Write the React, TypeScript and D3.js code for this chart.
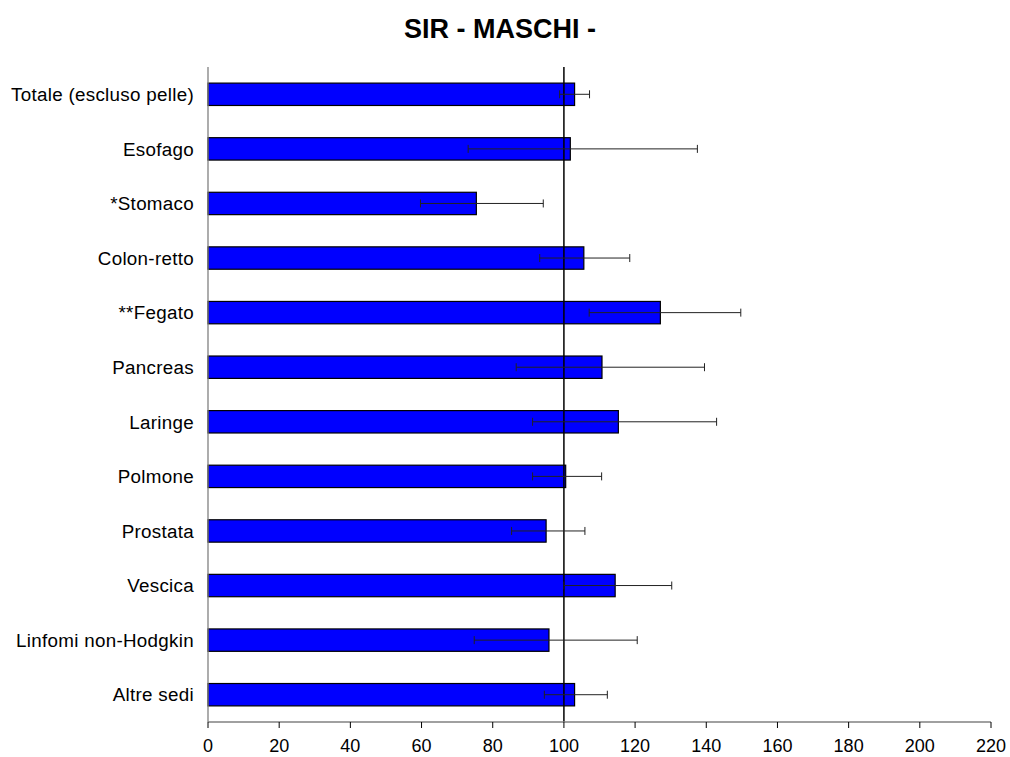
import * as d3 from "d3";

const categories = [
  "Totale (escluso pelle)",
  "Esofago",
  "*Stomaco",
  "Colon-retto",
  "**Fegato",
  "Pancreas",
  "Laringe",
  "Polmone",
  "Prostata",
  "Vescica",
  "Linfomi non-Hodgkin",
  "Altre sedi",
];
const sir = [103.0, 101.8, 75.4, 105.6, 127.1, 110.7, 115.3, 100.5, 95.0, 114.4, 95.8, 103.0];
const lower = [98.8, 73.1, 59.7, 93.2, 107.1, 86.6, 91.2, 91.2, 85.3, 100.0, 74.8, 94.5];
const upper = [107.2, 137.5, 94.2, 118.5, 149.7, 139.5, 142.9, 110.6, 105.9, 130.3, 120.6, 112.2];
const xTicks = [0, 20, 40, 60, 80, 100, 120, 140, 160, 180, 200, 220];

const W = 1010;
const H = 757;
const M = { top: 67, right: 19, bottom: 35, left: 208 };
const FONT = "'Liberation Sans', Arial, sans-serif";
const LABEL_SIZE = 18.8;

export default function App() {
  const x = d3.scaleLinear().domain([0, 220]).range([M.left, W - M.right]);
  const y = d3
    .scaleBand()
    .domain(categories)
    .range([M.top, H - M.bottom])
    .paddingInner(0.59)
    .paddingOuter(0.295);
  const bw = y.bandwidth();
  const axisY = H - M.bottom;

  return (
    <svg
      width={W}
      height={H}
      style={{ position: "absolute", left: 0, top: 0, background: "#fff" }}
      fontFamily={FONT}
    >
      <text x={500} y={37.5} textAnchor="middle" fontSize={27} fontWeight="bold" fill="#000">
        SIR - MASCHI -
      </text>

      {/* bars */}
      {categories.map((c, i) => {
        const yy = y(c)!;
        return (
          <g key={c}>
            <rect
              x={x(0)}
              y={yy}
              width={x(sir[i]) - x(0)}
              height={bw}
              fill="#0000ff"
              stroke="#000"
              strokeWidth={1.2}
            />
            <text
              x={M.left - 14}
              y={yy + bw / 2 + LABEL_SIZE * 0.36}
              textAnchor="end"
              fontSize={LABEL_SIZE}
              letterSpacing={0.3}
              fill="#000"
            >
              {c}
            </text>
          </g>
        );
      })}

      {/* reference line at 100 */}
      <line x1={x(100)} x2={x(100)} y1={M.top} y2={axisY} stroke="#000" strokeWidth={1.5} />

      {/* error bars */}
      {categories.map((c, i) => {
        const cy = y(c)! + bw / 2;
        return (
          <g key={"e" + c} stroke="#222" strokeWidth={1}>
            <line x1={x(lower[i])} x2={x(upper[i])} y1={cy} y2={cy} />
            <line x1={x(lower[i])} x2={x(lower[i])} y1={cy - 4} y2={cy + 4} />
            <line x1={x(upper[i])} x2={x(upper[i])} y1={cy - 4} y2={cy + 4} />
          </g>
        );
      })}

      {/* axes */}
      <line x1={M.left} x2={M.left} y1={M.top} y2={axisY} stroke="#808080" strokeWidth={1.3} />
      <line x1={M.left} x2={x(220)} y1={axisY} y2={axisY} stroke="#808080" strokeWidth={1.3} />
      {xTicks.map((t) => (
        <g key={t}>
          <line x1={x(t)} x2={x(t)} y1={axisY} y2={axisY + 6} stroke="#000" strokeWidth={1} />
          <text x={x(t)} y={axisY + 30} textAnchor="middle" fontSize={18} fill="#000">
            {t}
          </text>
        </g>
      ))}
    </svg>
  );
}
